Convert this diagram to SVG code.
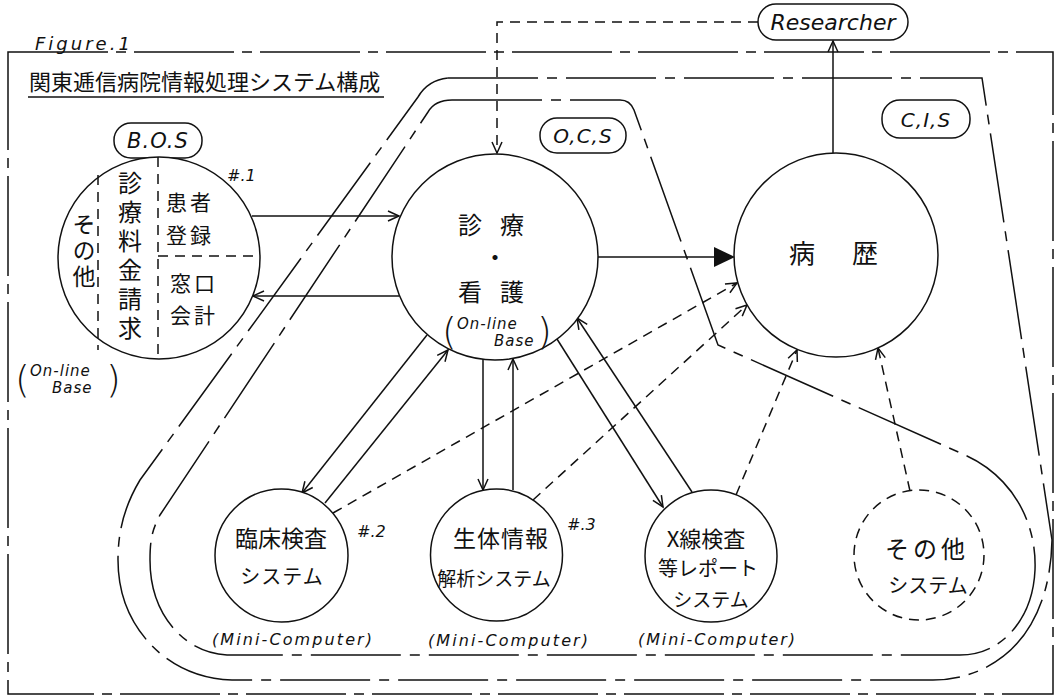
<svg xmlns="http://www.w3.org/2000/svg" width="1058" height="698" viewBox="0 0 1058 698">
<defs>
<style>
.ln{stroke:#111;stroke-width:1.5;fill:none}
.dsh{stroke-dasharray:10 7}
.bd{stroke-dasharray:90 9 10 9}
.fr{stroke-dasharray:100 8 10 8}
.box{fill:#fff;stroke:#111;stroke-width:1.5}
.nd{fill:#fff;stroke:#111;stroke-width:1.5}
.jp{font-family:"Noto Sans CJK JP","Noto Sans CJK SC",sans-serif;fill:#111}
.vt{writing-mode:vertical-rl;text-orientation:upright}
.lat{font-family:"DejaVu Sans","Liberation Sans",sans-serif;font-style:italic;fill:#111}
.par{font-family:"DejaVu Sans",sans-serif;font-weight:300;fill:#111}
</style>
<marker id="ah" markerWidth="14" markerHeight="12" refX="12" refY="6" orient="auto" markerUnits="userSpaceOnUse">
<path d="M1,1 L12,6 L1,11" fill="none" stroke="#111" stroke-width="1.5"/>
</marker>
</defs>
<rect width="1058" height="698" fill="#fff"/>

<g id="frame">
<path class="ln fr" d="M8,52 H1053 V694 H8 Z"/>
<text class="lat" x="35" y="50" font-size="18" letter-spacing="3">Figure.1</text>
<text class="jp" x="29" y="90" font-size="22">関東逓信病院情報処理システム構成</text>
<line class="ln" x1="28" y1="97" x2="384" y2="97"/>
</g>

<g id="boundaries">
<path id="cis-boundary" class="ln bd" d="M448,78 L982,78 L1052,540 C1050,640 990,680 933,680 L232,680 C165,678 118,625 118,560 C118,530 125,505 140,480 L418,97 Q428,80 448,78 Z"/>
<path id="ocs-boundary" class="ln bd" d="M452,100 L620,100 Q630,100 634,110 L718,345 L965,455 C1010,475 1037,520 1035,570 C1033,615 1005,655 960,655 L227,655 C180,652 150,610 150,560 C150,540 152,530 160,515 L428,112 Q435,100 452,100 Z"/>
</g>

<g id="connectors">
<line class="ln" x1="252" y1="216" x2="399" y2="216" marker-end="url(#ah)"/>
<line class="ln" x1="399" y1="296" x2="253" y2="296" marker-end="url(#ah)"/>
<line class="ln" x1="598" y1="257" x2="716" y2="257" stroke-width="9"/>
<polygon points="714,247 735,257 714,267" fill="#111"/>
<line class="ln" x1="833" y1="153" x2="833" y2="41" marker-end="url(#ah)"/>
<path class="ln dsh" d="M758,22 H497 V153" marker-end="url(#ah)"/>
<line class="ln" x1="427" y1="335" x2="302" y2="493" marker-end="url(#ah)"/>
<line class="ln" x1="325" y1="503" x2="448" y2="350" marker-end="url(#ah)"/>
<line class="ln" x1="483" y1="359" x2="483" y2="490" marker-end="url(#ah)"/>
<line class="ln" x1="513" y1="490" x2="513" y2="359" marker-end="url(#ah)"/>
<line class="ln" x1="557" y1="339" x2="663" y2="507" marker-end="url(#ah)"/>
<line class="ln" x1="692" y1="492" x2="577" y2="318" marker-end="url(#ah)"/>
<line class="ln dsh" x1="333" y1="513" x2="737" y2="283" marker-end="url(#ah)"/>
<line class="ln dsh" x1="533" y1="500" x2="747" y2="305" marker-end="url(#ah)"/>
<line class="ln dsh" x1="736" y1="495" x2="797" y2="350" marker-end="url(#ah)"/>
<line class="ln dsh" x1="910" y1="491" x2="878" y2="348" marker-end="url(#ah)"/>
</g>

<g id="researcher">
<rect class="box" x="758" y="4" width="150" height="36" rx="18"/>
<text class="lat" x="833" y="30" font-size="22" text-anchor="middle">Researcher</text>
</g>

<g id="label-bos">
<rect class="box" x="114" y="123" width="88" height="35" rx="17"/>
<text class="lat" x="158" y="148" font-size="21" text-anchor="middle" letter-spacing="1">B.O.S</text>
</g>
<g id="label-ocs">
<rect class="box" x="540" y="118" width="86" height="35" rx="17"/>
<text class="lat" x="583" y="143" font-size="20" text-anchor="middle" letter-spacing="1">O,C,S</text>
</g>
<g id="label-cis">
<rect class="box" x="882" y="100" width="88" height="38" rx="18"/>
<text class="lat" x="926" y="127" font-size="20" text-anchor="middle" letter-spacing="1">C,I,S</text>
</g>

<g id="node-bos">
<circle class="nd" cx="159" cy="258" r="101"/>
<line class="ln dsh" x1="158" y1="157" x2="158" y2="359"/>
<line class="ln dsh" x1="98" y1="175" x2="98" y2="350"/>
<line class="ln dsh" x1="158" y1="256" x2="260" y2="256"/>
<text class="jp" x="166" y="210" font-size="21" letter-spacing="3">患者</text>
<text class="jp" x="166" y="243" font-size="21" letter-spacing="3">登録</text>
<text class="jp" x="170" y="291" font-size="21" letter-spacing="3">窓口</text>
<text class="jp" x="170" y="323" font-size="21" letter-spacing="3">会計</text>
<text class="jp vt" x="130" y="171" font-size="24" letter-spacing="5">診療料金請求</text>
<text class="jp vt" x="84" y="213" font-size="23" letter-spacing="3">その他</text>
<text class="lat" x="227" y="181" font-size="16" font-style="normal">#.1</text>
<text class="par" x="15" y="392" font-size="38">(</text>
<text class="lat" x="30" y="376" font-size="15" letter-spacing="1">On-line</text>
<text class="lat" x="52" y="393" font-size="15" letter-spacing="1">Base</text>
<text class="par" x="106" y="392" font-size="38">)</text>
</g>

<g id="node-shinryo">
<circle class="nd" cx="495" cy="257" r="103"/>
<text class="jp" x="470" y="234" font-size="24" text-anchor="middle">診</text>
<text class="jp" x="512" y="234" font-size="24" text-anchor="middle">療</text>
<text class="jp" x="495" y="266" font-size="24" text-anchor="middle">・</text>
<text class="jp" x="470" y="301" font-size="24" text-anchor="middle">看</text>
<text class="jp" x="512" y="301" font-size="24" text-anchor="middle">護</text>
<text class="par" x="442" y="344" font-size="38">(</text>
<text class="lat" x="457" y="329" font-size="15" letter-spacing="1">On-line</text>
<text class="lat" x="494" y="346" font-size="15" letter-spacing="1">Base</text>
<text class="par" x="537" y="344" font-size="38">)</text>
</g>

<g id="node-byoreki">
<circle class="nd" cx="836" cy="255" r="102"/>
<text class="jp" x="802" y="263" font-size="26" text-anchor="middle">病</text>
<text class="jp" x="865" y="263" font-size="26" text-anchor="middle">歴</text>
</g>

<g id="node-rinsho">
<circle class="nd" cx="281.5" cy="555.5" r="66.5"/>
<text class="jp" x="281" y="547" font-size="23" text-anchor="middle">臨床検査</text>
<text class="jp" x="282" y="584" font-size="20" text-anchor="middle" letter-spacing="1">システム</text>
<text class="lat" x="357" y="537" font-size="16" font-style="normal">#.2</text>
<text class="lat" x="212" y="645" font-size="16" textLength="160">(Mini-Computer)</text>
</g>

<g id="node-seitai">
<circle class="nd" cx="496.5" cy="555" r="66"/>
<text class="jp" x="501" y="547" font-size="23" text-anchor="middle" letter-spacing="1">生体情報</text>
<text class="jp" x="494" y="586" font-size="19" text-anchor="middle">解析システム</text>
<text class="lat" x="567" y="530" font-size="16" font-style="normal">#.3</text>
<text class="lat" x="428" y="646" font-size="16" textLength="160">(Mini-Computer)</text>
</g>

<g id="node-xray">
<circle class="nd" cx="711" cy="556" r="66"/>
<text class="jp" x="706" y="547" font-size="22" text-anchor="middle">X線検査</text>
<text class="jp" x="708" y="576" font-size="20" text-anchor="middle">等レポート</text>
<text class="jp" x="711" y="607" font-size="19" text-anchor="middle">システム</text>
<text class="lat" x="638" y="645" font-size="16" textLength="157">(Mini-Computer)</text>
</g>

<g id="node-sonota">
<circle class="nd dsh" cx="919" cy="555" r="65"/>
<text class="jp" x="927" y="558" font-size="24" text-anchor="middle" letter-spacing="4">その他</text>
<text class="jp" x="928" y="593" font-size="20" text-anchor="middle">システム</text>
</g>
</svg>
